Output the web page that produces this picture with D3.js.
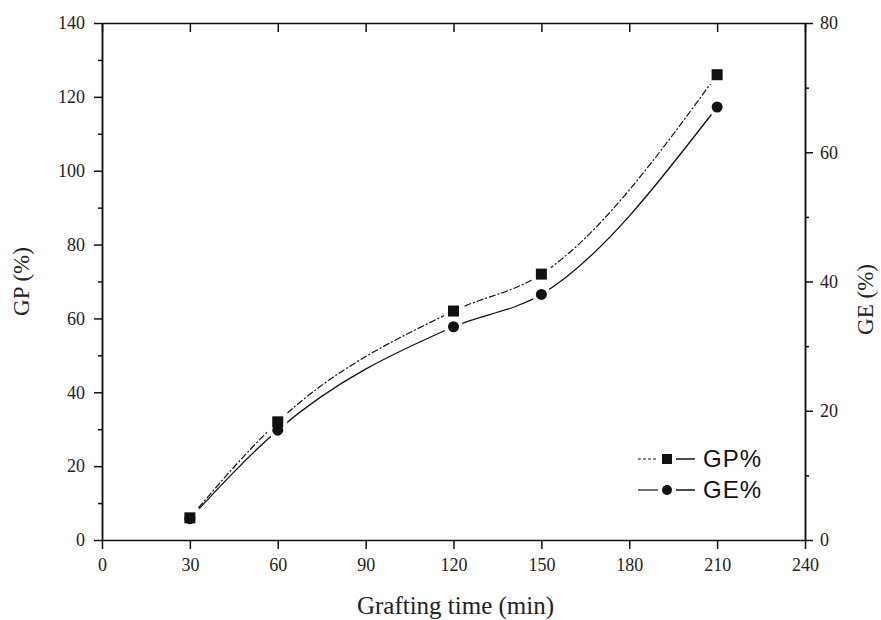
<!DOCTYPE html>
<html>
<head>
<meta charset="utf-8">
<script src="https://cdn.jsdelivr.net/npm/d3@7"></script>
<style>
  body { margin: 0; background: #fff; }
  svg { display: block; }
  .tick text { font-family: "Liberation Serif", "Times New Roman", serif; font-size: 18px; fill: #222; }
  .axis path, .axis line { stroke: #111; stroke-width: 1.5; }
</style>
</head>
<body>
<div id="chart"></div>
<script>
// grafting time (min) and the two series
const times = [30, 60, 120, 150, 210];
const gpValues = [6, 32, 62, 72, 126];     // left axis
const geValues = [3.3, 17, 33, 38, 67];    // right axis

const xTicks = [0, 30, 60, 90, 120, 150, 180, 210, 240];
const gpTicks = [0, 20, 40, 60, 80, 100, 120, 140];
const gpMinor = [10, 30, 50, 70, 90, 110, 130];
const geTicks = [0, 20, 40, 60, 80];
const geMinor = [10, 30, 50, 70];

const width = 881, height = 620;
const margin = { top: 23, right: 76, bottom: 80, left: 102 };

const svg = d3.select("#chart").append("svg")
    .attr("width", width)
    .attr("height", height);

const x = d3.scaleLinear().domain([0, 240]).range([margin.left, width - margin.right]);
const yL = d3.scaleLinear().domain([0, 140]).range([height - margin.bottom, margin.top]);
const yR = d3.scaleLinear().domain([0, 80]).range([height - margin.bottom, margin.top]);

const bottom = height - margin.bottom;
const right = width - margin.right;

// axes
svg.append("g").attr("class", "axis")
    .attr("transform", `translate(0,${bottom})`)
    .call(d3.axisBottom(x).tickValues(xTicks).tickSizeInner(9).tickSizeOuter(0).tickPadding(9));

svg.append("g").attr("class", "axis")
    .attr("transform", `translate(0,${margin.top})`)
    .call(d3.axisTop(x).tickValues(xTicks).tickSizeInner(-9).tickSizeOuter(0).tickFormat(""));

svg.append("g").attr("class", "axis")
    .attr("transform", `translate(${margin.left},0)`)
    .call(d3.axisLeft(yL).tickValues(gpTicks).tickSizeInner(8).tickSizeOuter(0).tickPadding(9));
svg.append("g").attr("class", "axis")
    .attr("transform", `translate(${margin.left},0)`)
    .call(d3.axisLeft(yL).tickValues(gpMinor).tickSizeInner(4).tickSizeOuter(0).tickFormat(""));

svg.append("g").attr("class", "axis")
    .attr("transform", `translate(${right},0)`)
    .call(d3.axisRight(yR).tickValues(geTicks).tickSizeInner(8).tickSizeOuter(0).tickPadding(7));
svg.append("g").attr("class", "axis")
    .attr("transform", `translate(${right},0)`)
    .call(d3.axisRight(yR).tickValues(geMinor).tickSizeInner(4).tickSizeOuter(0).tickFormat(""));

// axis titles
svg.append("text")
    .attr("x", (margin.left + right) / 2 + 2)
    .attr("y", 614)
    .attr("text-anchor", "middle")
    .style("font-family", "Liberation Serif, serif")
    .style("font-size", "25px")
    .attr("fill", "#222")
    .text("Grafting time (min)");

svg.append("text")
    .attr("transform", `translate(29,${(margin.top + bottom) / 2}) rotate(-90)`)
    .attr("text-anchor", "middle")
    .style("font-family", "Liberation Serif, serif")
    .style("font-size", "23px")
    .attr("fill", "#222")
    .text("GP (%)");

svg.append("text")
    .attr("transform", `translate(873,${(margin.top + bottom) / 2 + 18}) rotate(-90)`)
    .attr("text-anchor", "middle")
    .style("font-family", "Liberation Serif, serif")
    .style("font-size", "23px")
    .attr("fill", "#222")
    .text("GE (%)");

// curves
const gpData = times.map((t, i) => [x(t), yL(gpValues[i])]);
const geData = times.map((t, i) => [x(t), yR(geValues[i])]);
const line = d3.line().curve(d3.curveMonotoneX);

svg.append("path")
    .attr("d", line(gpData))
    .attr("fill", "none")
    .attr("stroke", "#111")
    .attr("stroke-width", 1.2)
    .attr("stroke-dasharray", "7,2,2,2");

svg.append("path")
    .attr("d", line(geData))
    .attr("fill", "none")
    .attr("stroke", "#111")
    .attr("stroke-width", 1.3);

// markers with white halo to break the lines
function square(g, cx, cy, s, fill, halo) {
    g.append("rect")
        .attr("x", cx - s / 2 - halo).attr("y", cy - s / 2 - halo)
        .attr("width", s + 2 * halo).attr("height", s + 2 * halo)
        .attr("fill", fill);
}
function dot(g, cx, cy, r, fill) {
    g.append("circle").attr("cx", cx).attr("cy", cy).attr("r", r).attr("fill", fill);
}

const halos = svg.append("g");
const marks = svg.append("g");
gpData.forEach(p => square(halos, p[0], p[1], 11, "#fff", 4));
geData.forEach(p => dot(halos, p[0], p[1], 9.5, "#fff"));
geData.forEach(p => dot(marks, p[0], p[1], 5.5, "#111"));
gpData.forEach(p => square(marks, p[0], p[1], 11, "#111", 0));

// legend
const legend = svg.append("g");
const legendItems = [
    { name: "GP%", y: 459, dash: "3,2", shape: "square" },
    { name: "GE%", y: 490, dash: null, shape: "circle" }
];
legendItems.forEach(item => {
    legend.append("line")
        .attr("x1", 638).attr("x2", 658)
        .attr("y1", item.y).attr("y2", item.y)
        .attr("stroke", "#111").attr("stroke-width", 1.2)
        .attr("stroke-dasharray", item.dash);
    legend.append("line")
        .attr("x1", 676).attr("x2", 695)
        .attr("y1", item.y).attr("y2", item.y)
        .attr("stroke", "#111").attr("stroke-width", 1.5);
    if (item.shape === "square") square(legend, 667, item.y, 10, "#111", 0);
    else dot(legend, 667, item.y, 5, "#111");
    legend.append("text")
        .attr("x", 703).attr("y", item.y + 8)
        .style("font-family", "Liberation Sans, Arial, sans-serif")
        .style("font-size", "24px")
        .style("letter-spacing", "1px")
        .attr("fill", "#111")
        .text(item.name);
});
</script>
</body>
</html>
